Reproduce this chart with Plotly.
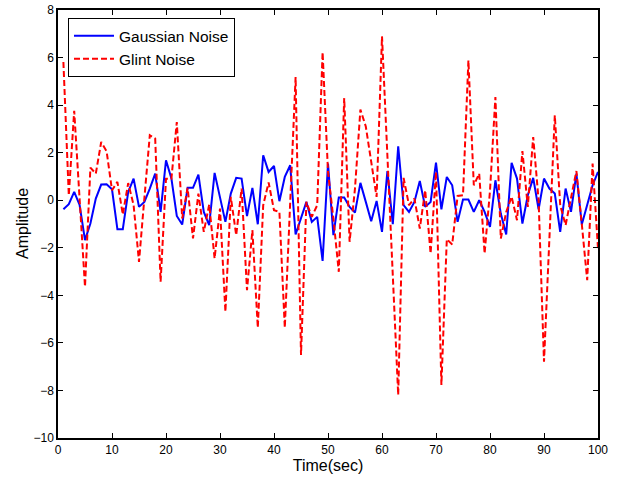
import plotly.graph_objects as go

time_sec = list(range(1, 101))

gaussian_noise = [
    -0.38, -0.17, 0.35, -0.2, -1.68, -0.98, 0.07, 0.66, 0.67, 0.46,
    -1.22, -1.22, 0.35, 0.91, -0.28, -0.07, 0.49, 1.12, -0.49, 1.68,
    0.91, -0.66, -1.02, 0.52, 0.52, 1.08, -0.49, -1.05, 1.15, 0.14,
    -0.91, 0.28, 0.94, 0.91, -0.67, 0.52, -1.01, 1.89, 1.19, 1.44,
    -0.04, 0.98, 1.47, -1.44, -0.77, -0.07, -0.91, -0.70, -2.55, 1.54,
    -1.47, 0.11, 0.11, -0.28, -0.52, 0.73, -0.07, -0.88, -0.03, -1.33,
    1.22, -1.01, 2.27, -0.21, -0.49, -0.07, 0.81, -0.28, -0.07, 1.58,
    -0.38, 0.98, 0.63, -0.91, 0.03, 0.03, -0.49, 0.0, -0.49, -1.12,
    0.84, -0.56, -1.44, 1.57, 0.91, -0.98, 0.21, 0.94, -0.38, 0.91,
    0.49, 0.28, -1.33, 0.49, -0.49, 1.12, -1.02, -0.2, 0.63, 1.19,
]

glint_noise = [
    5.81, 0.2, 3.76, 0.0, -3.64, 1.37, 1.12, 2.45, 2.06, 0.42,
    0.77, -0.6, 0.72, -0.2, -2.59, 0.1, 2.73, 2.59, -3.43, 0.9,
    0.9, 3.29, -0.77, 0.52, -1.61, 0.28, -1.33, -0.18, -2.45, -0.35,
    -4.69, 0.14, -1.47, 0.49, -3.78, -1.26, -5.36, -0.21, 0.75, -0.42,
    -0.49, -5.36, -0.2, 5.18, -6.51, -0.07, -0.7, -0.21, 6.23, 1.19,
    -0.77, -3.01, 4.3, -1.75, 0.5, 3.81, 3.1, 1.7, 0.14, 6.89,
    1.86, -3.16, -8.19, 0.94, -0.21, 0.07, -1.19, 0.42, -2.24, 1.19,
    -7.77, -1.64, -1.86, 0.18, 0.21, 5.88, 0.63, 1.12, -2.24, 0.4,
    4.34, -1.61, -0.5, 0.15, -0.84, 2.07, -0.28, 2.66, 0.0, -6.79,
    -1.33, 3.57, -0.21, -1.05, 0.1, 1.23, -1.0, -3.36, 1.54, -2.03,
]

x_ticks = list(range(0, 101, 10))
y_ticks = list(range(-10, 9, 2))

FONT = "Liberation Sans, Arial, sans-serif"

fig = go.Figure()
fig.add_trace(go.Scatter(
    x=time_sec, y=gaussian_noise, mode="lines", name="Gaussian Noise",
    line=dict(color="#0000FF", width=2),
))
fig.add_trace(go.Scatter(
    x=time_sec, y=glint_noise, mode="lines", name="Glint Noise",
    line=dict(color="#FF0000", width=2, dash="6px,3px"),
))

axis_common = dict(
    showline=True, linecolor="black", linewidth=1.5, mirror="ticks",
    ticks="inside", ticklen=5, tickcolor="black", tickwidth=1,
    showgrid=False, zeroline=False, automargin=False,
    tickfont=dict(family=FONT, size=12, color="black"),
)

fig.update_layout(
    width=621, height=479,
    margin=dict(l=58, r=23, t=10, b=41),
    paper_bgcolor="white", plot_bgcolor="white",
    font=dict(family=FONT, color="black"),
    xaxis=dict(range=[0, 100], tickvals=x_ticks,
               title=dict(text="Time(sec)", font=dict(family=FONT, size=16), standoff=2),
               **axis_common),
    yaxis=dict(range=[-10, 8], tickvals=y_ticks, **axis_common),
    legend=dict(x=0.0185, y=0.981, xanchor="left", yanchor="top",
                bgcolor="white", bordercolor="black", borderwidth=1,
                font=dict(family=FONT, size=15.5, color="black"),
                itemwidth=40, tracegroupgap=0),
    showlegend=True,
    annotations=[dict(
        text="Amplitude", textangle=-90, showarrow=False,
        xref="paper", yref="paper", x=(22 - 58) / 540, y=0.5,
        xanchor="center", yanchor="middle",
        font=dict(family=FONT, size=16, color="black"),
    )],
)

fig.write_html("out.html")
